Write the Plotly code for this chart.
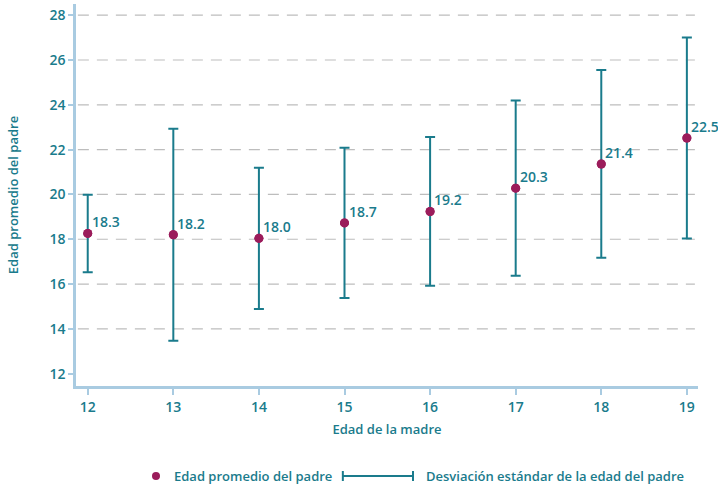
import plotly.graph_objects as go

edad_madre = [12, 13, 14, 15, 16, 17, 18, 19]
edad_padre_media = [18.26, 18.20, 18.04, 18.73, 19.24, 20.28, 21.36, 22.52]
edad_padre_sd = [1.73, 4.73, 3.15, 3.35, 3.32, 3.91, 4.19, 4.49]
y_ticks = [12, 14, 16, 18, 20, 22, 24, 26, 28]

TEAL = "#1a7b8c"
MAROON = "#9b1c5b"
AXIS = "#a9cbe1"
GRID = "#bdbdbd"
FONT = "Open Sans"
W = 600
FS = 13
FS_TICK = 14

fig = go.Figure()
fig.add_trace(go.Scatter(
    x=edad_madre, y=edad_padre_media, mode="markers",
    marker=dict(color=MAROON, size=9, line=dict(width=0)),
    error_y=dict(type="data", array=edad_padre_sd, visible=True,
                 color=TEAL, thickness=2, width=5),
    showlegend=False, hoverinfo="skip",
))
fig.add_trace(go.Scatter(
    x=edad_madre, y=edad_padre_media, mode="markers",
    marker=dict(color=MAROON, size=9), showlegend=False, hoverinfo="skip",
))

for xv, yv in zip(edad_madre, edad_padre_media):
    fig.add_annotation(x=xv, y=yv, text=f"{yv:.1f}", showarrow=False,
                       xanchor="left", yanchor="bottom", xshift=2, yshift=0,
                       font=dict(family=FONT, size=FS_TICK, color=TEAL, weight=W))

shapes = []
for t in y_ticks[1:]:
    shapes.append(dict(type="line", xref="paper", yref="y", x0=0.003, x1=0.995,
                       y0=t, y1=t, line=dict(color=GRID, width=1.2, dash="11px,8px"),
                       layer="below"))

ly = -0.2356
shapes.append(dict(type="circle", xref="paper", yref="paper", xsizemode="pixel",
                   ysizemode="pixel", xanchor=0.1286, yanchor=ly, x0=-4, x1=4, y0=-4, y1=4,
                   fillcolor=MAROON, line=dict(width=0)))
shapes.append(dict(type="line", xref="paper", yref="paper", x0=0.429, x1=0.5418,
                   y0=ly, y1=ly, line=dict(color=TEAL, width=2)))
for xc in (0.429, 0.5418):
    shapes.append(dict(type="line", xref="paper", yref="paper", ysizemode="pixel",
                       yanchor=ly, x0=xc, x1=xc, y0=-5, y1=5, line=dict(color=TEAL, width=2)))
fig.add_annotation(xref="paper", yref="paper", x=0.154, y=ly, text="Edad promedio del padre",
                   showarrow=False, xanchor="left", yanchor="middle",
                   font=dict(family=FONT, size=FS, color=TEAL, weight=W))
fig.add_annotation(xref="paper", yref="paper", x=0.559, y=ly,
                   text="Desviación estándar de la edad del padre",
                   showarrow=False, xanchor="left", yanchor="middle",
                   font=dict(family=FONT, size=FS, color=TEAL, weight=W))

tf = dict(family=FONT, size=FS_TICK, color=TEAL, weight=W)
ttf = dict(family=FONT, size=FS, color=TEAL, weight=W)
fig.update_layout(
    width=718, height=488,
    margin=dict(l=76, r=20, t=4, b=102),
    plot_bgcolor="white", paper_bgcolor="white",
    shapes=shapes,
    font=dict(family=FONT, color=TEAL, size=FS),
    xaxis=dict(range=[11.863, 19.13], tickvals=edad_madre, showgrid=False, zeroline=False,
               showline=True, linecolor=AXIS, linewidth=2.5, ticks="outside",
               ticklen=6, tickcolor=AXIS, tickwidth=2, tickfont=tf,
               title=dict(text="Edad de la madre", standoff=11, font=ttf)),
    yaxis=dict(range=[11.45, 28.5], tickvals=y_ticks, showgrid=False, zeroline=False,
               showline=True, linecolor=AXIS, linewidth=2.5, ticks="outside",
               ticklen=5, tickcolor=AXIS, tickwidth=2, tickfont=tf,
               title=dict(text="Edad promedio del padre", standoff=28, font=ttf)),
)

fig.write_html("out.html")
